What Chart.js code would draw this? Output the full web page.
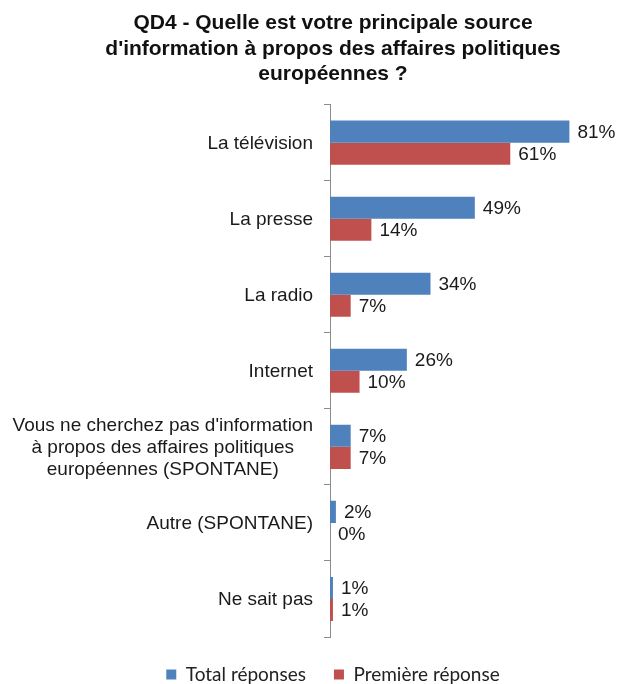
<!DOCTYPE html>
<html>
<head>
<meta charset="utf-8">
<script src="https://cdn.jsdelivr.net/npm/chart.js@4/dist/chart.umd.min.js"></script>
<style>
  html, body { margin: 0; padding: 0; background: #fff; }
</style>
</head>
<body>
<canvas id="chart" width="618" height="684"></canvas>
<script>
// Survey question QD4: main source of information on European political affairs
const categories = [
  "La télévision",
  "La presse",
  "La radio",
  "Internet",
  ["Vous ne cherchez pas d'information", "à propos des affaires politiques", "européennes (SPONTANE)"],
  "Autre (SPONTANE)",
  "Ne sait pas"
];
const totalReponses = [81, 49, 34, 26, 7, 2, 1];
const premiereReponse = [61, 14, 7, 10, 7, 0, 1];
const seriesNames = ["Total réponses", "Première réponse"];

const labelFont = "19px 'Liberation Sans', Arial, sans-serif";

// percentage labels at the end of each bar
const valueLabels = {
  id: "valueLabels",
  afterDatasetsDraw(chart) {
    const ctx = chart.ctx;
    ctx.save();
    ctx.font = labelFont;
    ctx.fillStyle = "#1a1a1a";
    ctx.textAlign = "left";
    ctx.textBaseline = "middle";
    chart.data.datasets.forEach((ds, i) => {
      chart.getDatasetMeta(i).data.forEach((bar, j) => {
        ctx.fillText(ds.data[j] + "%", bar.x + 8, bar.y + 1);
      });
    });
    ctx.restore();
  }
};

// category names, each block centred on itself and right-aligned to the axis
const categoryLabels = {
  id: "categoryLabels",
  afterDraw(chart) {
    const ctx = chart.ctx;
    const scale = chart.scales.y;
    ctx.save();
    ctx.font = labelFont;
    ctx.fillStyle = "#1a1a1a";
    ctx.textAlign = "center";
    ctx.textBaseline = "middle";
    const lineH = 22;
    categories.forEach((cat, i) => {
      const lines = Array.isArray(cat) ? cat : [cat];
      const w = Math.max(...lines.map(l => ctx.measureText(l).width));
      const cx = chart.chartArea.left - 17 - w / 2;
      const cy = scale.getPixelForTick(i);
      lines.forEach((l, k) => {
        ctx.fillText(l, cx, cy + (k - (lines.length - 1) / 2) * lineH + 1);
      });
    });
    ctx.restore();
  }
};

new Chart(document.getElementById("chart"), {
  type: "bar",
  data: {
    labels: categories,
    datasets: [
      {
        label: seriesNames[0],
        data: totalReponses,
        backgroundColor: "#4F81BD",
        categoryPercentage: 0.58,
        barPercentage: 1.0
      },
      {
        label: seriesNames[1],
        data: premiereReponse,
        backgroundColor: "#C0504D",
        categoryPercentage: 0.58,
        barPercentage: 1.0
      }
    ]
  },
  options: {
    indexAxis: "y",
    responsive: false,
    animation: false,
    layout: {
      padding: { left: 70, right: 22, top: 0, bottom: -10 }
    },
    plugins: {
      title: {
        display: true,
        text: [
          "QD4 - Quelle est votre principale source",
          "d'information à propos des affaires politiques",
          "européennes ?"
        ],
        font: { family: "'Liberation Sans', Arial, sans-serif", size: 21, weight: "bold", lineHeight: 1.2 },
        color: "#111",
        padding: { top: 11, bottom: 18 }
      },
      legend: {
        position: "bottom",
        labels: {
          font: { family: "Lato", size: 19 },
          color: "#222",
          boxWidth: 10,
          boxHeight: 10,
          padding: 28
        }
      },
      tooltip: { enabled: false }
    },
    scales: {
      x: {
        display: false,
        min: 0,
        max: 90
      },
      y: {
        afterFit(scale) {
          scale.width = 260;
        },
        ticks: { display: false },
        border: { color: "#8c8c8c" },
        grid: {
          offset: true,
          drawOnChartArea: false,
          tickLength: 6,
          color: "#8c8c8c"
        }
      }
    }
  },
  plugins: [valueLabels, categoryLabels]
});
</script>
</body>
</html>
